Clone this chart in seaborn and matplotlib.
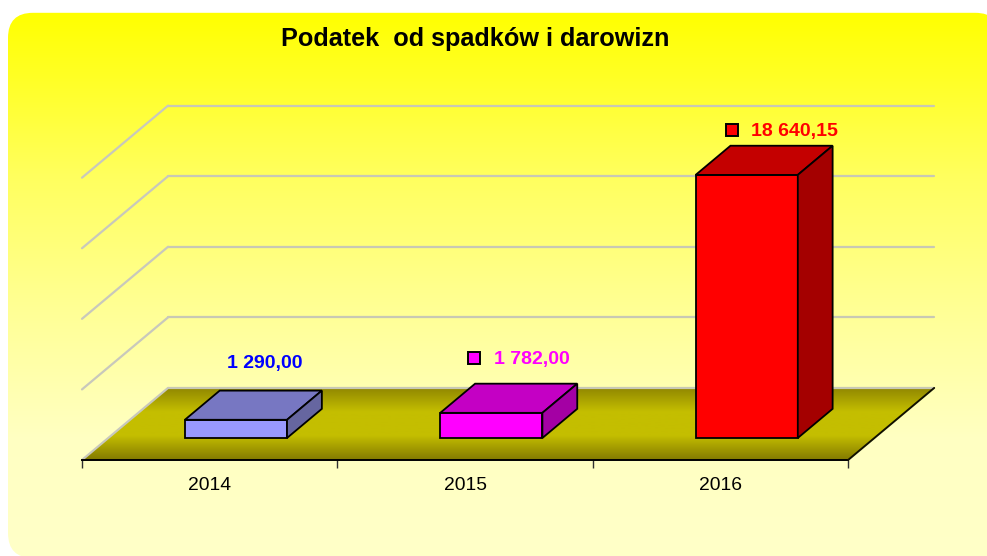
import numpy as np
import matplotlib
matplotlib.use('Agg')
import matplotlib.pyplot as plt
import seaborn as sns
from matplotlib.colors import LinearSegmentedColormap
from matplotlib.patches import FancyBboxPatch, Polygon

years = ['2014', '2015', '2016']
values = [1290.00, 1782.00, 18640.15]
value_labels = ['1 290,00', '1 782,00', '18 640,15']
front_colors = ['#9999FF', '#FF00FF', '#FF0000']
top_colors = ['#7777C2', '#C400C4', '#C40000']
side_colors = ['#6666A0', '#A400A4', '#A40000']
label_colors = ['#0000FF', '#FF00FF', '#FF0000']
show_marker = [False, True, True]
grid_values = [0, 5000, 10000, 15000, 20000]

# label placement relative to the back left corner of the bar top, in pixels
label_lift = [27, 24, 14]
label_shift = [7, 19, 21]
marker_shift = [0, -1, 2]

W, H = 987, 556
PX_PER_UNIT = 263 / 18640.15
PX_PER_CAT = (848 - 82) / 3
DEPTH_X = 86 / PX_PER_CAT
DEPTH_Y = 72 / PX_PER_UNIT
BAR_FRONT = 0.305
BAR_BACK = 0.71


def project(x, y, d):
    return (x + d * DEPTH_X, y + d * DEPTH_Y)


sns.set_theme(style='white')
plt.rcParams['font.family'] = ['Liberation Sans', 'DejaVu Sans']
# the extra fraction stops the canvas rounding down to 986 pixels
fig = plt.figure(figsize=((W + 0.2) / 100, (H + 0.2) / 100), dpi=100, facecolor='white')

# page background
bg = fig.add_axes([0, 0, 1, 1], zorder=0)
bg.axis('off')
page = LinearSegmentedColormap.from_list(
    'page', [(0, '#FFFF00'), (0.3, '#FFFF5E'), (0.55, '#FFFF96'), (0.78, '#FFFFC2'), (1, '#FFFFC8')])
grad = bg.imshow(np.linspace(0, 1, 256)[:, None], cmap=page, aspect='auto',
                 extent=[8, W + 30, H + 2, 13], zorder=1)
box = FancyBboxPatch((8 + 25, 13 + 25), 1000 - 8 - 50, 558 - 13 - 50,
                     boxstyle='round,pad=25', fc='none', ec='none', transform=bg.transData)
bg.add_patch(box)
grad.set_clip_path(box)
bg.set_xlim(0, W)
bg.set_ylim(H, 0)
bg.text(475.5, 39, 'Podatek  od spadków i darowizn', fontsize=18.2, fontweight='bold',
        color='black', ha='center', va='center')

# chart axes, x in categories, y in value units
ax = fig.add_axes([82 / W, (H - 460) / H, (848 - 82) / W, 460 / H], zorder=1)
ax.patch.set_alpha(0)

sns.barplot(x=years, y=values, hue=years, palette=front_colors, legend=False, width=0.4,
            saturation=1, edgecolor='black', linewidth=1.3, zorder=5, ax=ax)
bars = list(ax.patches)

# floor
floor = Polygon([project(-0.5, 0, 0), project(2.5, 0, 0), project(2.5, 0, 1), project(-0.5, 0, 1)],
                fc='none', ec='none', transform=ax.transData, clip_on=False)
ax.add_patch(floor)
floor_cmap = LinearSegmentedColormap.from_list('floor', ['#837A00', '#C4BE00', '#C4BE00', '#8F8600'])
img = ax.imshow(np.linspace(0, 1, 128)[:, None], cmap=floor_cmap, aspect='auto',
                extent=[-0.5, 2.5 + DEPTH_X, 0, DEPTH_Y], origin='lower', zorder=1)
img.set_clip_box(fig.bbox)
img.set_clip_path(floor)

# grid on back and left wall
for v in grid_values:
    xa, ya = project(-0.5, v, 1)
    xb, yb = project(2.5, v, 1)
    xf, yf = project(-0.5, v, 0)
    ax.plot([xa, xb], [ya, yb], color='#C8C8B4', lw=1.6, clip_on=False, zorder=2)
    ax.plot([xf, xa], [yf, ya], color='#C8C8BC', lw=1.6, clip_on=False, zorder=2)

# right edge of the floor
ax.plot(*zip(project(2.5, 0, 0), project(2.5, 0, 1)), color='#101000', lw=1.4, clip_on=False, zorder=3)

# move the bars onto the floor, then add the top and side faces
for i, bar in enumerate(bars):
    x0 = bar.get_x() + BAR_FRONT * DEPTH_X
    w = bar.get_width()
    h = bar.get_height()
    y0 = BAR_FRONT * DEPTH_Y
    bar.set_x(x0)
    bar.set_y(y0)
    d = BAR_BACK - BAR_FRONT
    top = [(x0, y0 + h), (x0 + w, y0 + h), project(x0 + w, y0 + h, d), project(x0, y0 + h, d)]
    side = [(x0 + w, y0), (x0 + w, y0 + h), project(x0 + w, y0 + h, d), project(x0 + w, y0, d)]
    ax.add_patch(Polygon(top, fc=top_colors[i], ec='black', lw=1.3, zorder=6, clip_on=False))
    ax.add_patch(Polygon(side, fc=side_colors[i], ec='black', lw=1.3, zorder=6, clip_on=False))

    # data label
    lx, ly = project(x0, y0 + h, d)
    ly += label_lift[i] / PX_PER_UNIT
    ax.text(lx + label_shift[i] / PX_PER_CAT, ly, value_labels[i], color=label_colors[i], fontsize=14,
            fontweight='bold', ha='left', va='center', zorder=7)
    if show_marker[i]:
        ax.plot(lx + marker_shift[i] / PX_PER_CAT, ly + 2 / PX_PER_UNIT, marker='s', ms=8, mfc=label_colors[i],
                mec='black', mew=1.4, clip_on=False, zorder=7)

ax.set_xlim(-0.5, 2.5)
ax.set_ylim(0, 460 / PX_PER_UNIT)
ax.set_ylabel('')
ax.set_xticks(range(len(years)))
ax.set_xticklabels(years, fontsize=13.9, color='black')
ax.set_xticks([-0.5, 0.5, 1.5, 2.5], minor=True)
ax.tick_params(axis='x', which='major', length=0, pad=12)
ax.tick_params(axis='x', which='minor', length=6, width=1, color='#303030', bottom=True)
ax.set_yticks([])
for name in ['top', 'left', 'right']:
    ax.spines[name].set_visible(False)
ax.spines['bottom'].set_color('black')
ax.spines['bottom'].set_linewidth(1.4)

fig.savefig('out.png', dpi=100)
